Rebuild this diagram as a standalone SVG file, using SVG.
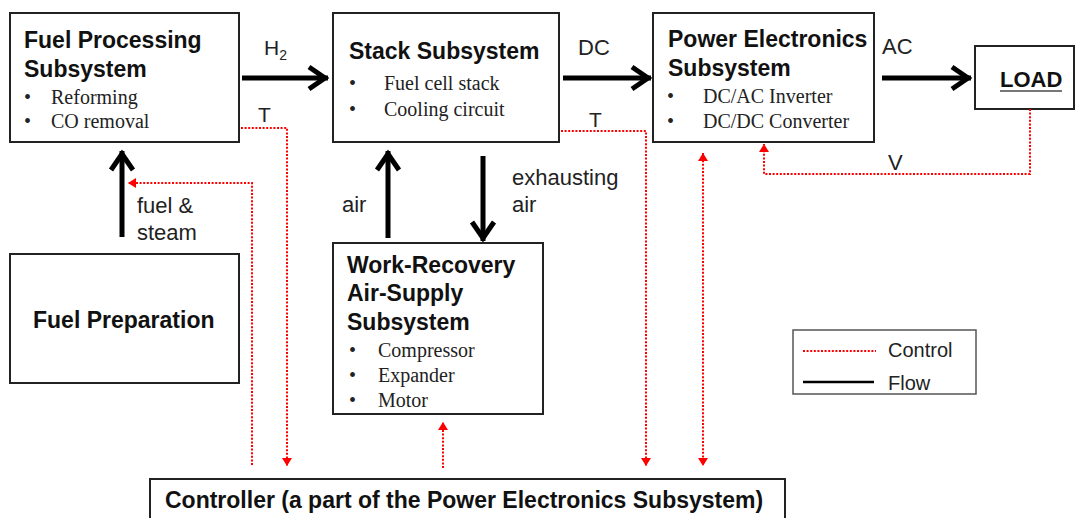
<svg xmlns="http://www.w3.org/2000/svg" width="1075" height="518" viewBox="0 0 1075 518">
  <style>
    .box { fill: #fff; stroke: #222; stroke-width: 2; }
    .title { font-family: "Liberation Sans", Arial, sans-serif; font-weight: bold; font-size: 23px; fill: #111; }
    .item { font-family: "Liberation Serif", "Times New Roman", serif; font-size: 20px; fill: #222; }
    .label { font-family: "Liberation Sans", Arial, sans-serif; font-size: 22px; fill: #222; }
    .legend { font-family: "Liberation Sans", Arial, sans-serif; font-size: 20px; fill: #222; }
    .flow { fill: none; stroke: #000; stroke-width: 5; marker-end: url(#flowHead); }
    .ctrl { fill: none; stroke: #f00; stroke-width: 2; stroke-dasharray: 2 1.6; }
  </style>
  <defs>
    <marker id="flowHead" markerUnits="userSpaceOnUse" viewBox="-24 -16 30 32" markerWidth="30" markerHeight="32" refX="0" refY="0" orient="auto" overflow="visible">
      <path d="M-19,-11 L-3,0 L-19,11" fill="none" stroke="#000" stroke-width="5" stroke-linejoin="miter"/>
    </marker>
    <marker id="ctrlHead" markerUnits="userSpaceOnUse" viewBox="-10 -6 12 12" markerWidth="12" markerHeight="12" refX="0" refY="0" orient="auto-start-reverse" overflow="visible">
      <path d="M-8,-5 L0,0 L-8,5 Z" fill="#f00"/>
    </marker>
  </defs>

  <!-- blocks -->
  <g id="fuel-processing">
    <rect class="box" x="10" y="13" width="229" height="129"/>
    <text class="title" x="24" y="48">Fuel Processing</text>
    <text class="title" x="24" y="77">Subsystem</text>
    <text class="item" x="24" y="104">•</text>
    <text class="item" x="51" y="104">Reforming</text>
    <text class="item" x="24" y="128">•</text>
    <text class="item" x="51" y="128">CO removal</text>
  </g>

  <g id="stack">
    <rect class="box" x="333" y="13" width="226" height="129"/>
    <text class="title" x="349" y="59">Stack Subsystem</text>
    <text class="item" x="349" y="90">•</text>
    <text class="item" x="384" y="90">Fuel cell stack</text>
    <text class="item" x="349" y="116">•</text>
    <text class="item" x="384" y="116">Cooling circuit</text>
  </g>

  <g id="power-electronics">
    <rect class="box" x="653" y="13" width="221" height="129"/>
    <text class="title" x="668" y="47">Power Electronics</text>
    <text class="title" x="668" y="76">Subsystem</text>
    <text class="item" x="667" y="103">•</text>
    <text class="item" x="703" y="103">DC/AC Inverter</text>
    <text class="item" x="667" y="128">•</text>
    <text class="item" x="703" y="128">DC/DC Converter</text>
  </g>

  <g id="load">
    <rect class="box" x="975" y="46" width="99" height="63"/>
    <text class="title" x="1000" y="87" style="font-size:22px">LOAD</text>
    <line x1="1000" y1="91" x2="1062" y2="91" stroke="#777" stroke-width="2"/>
  </g>

  <g id="fuel-preparation">
    <rect class="box" x="10" y="254" width="229" height="129"/>
    <text class="title" x="33" y="328">Fuel Preparation</text>
  </g>

  <g id="air-supply">
    <rect class="box" x="333" y="243" width="210" height="171"/>
    <text class="title" x="347" y="273">Work-Recovery</text>
    <text class="title" x="347" y="301">Air-Supply</text>
    <text class="title" x="347" y="330">Subsystem</text>
    <text class="item" x="349" y="357">•</text>
    <text class="item" x="378" y="357">Compressor</text>
    <text class="item" x="349" y="382">•</text>
    <text class="item" x="378" y="382">Expander</text>
    <text class="item" x="349" y="407">•</text>
    <text class="item" x="378" y="407">Motor</text>
  </g>

  <g id="controller">
    <rect class="box" x="150" y="479" width="635" height="60"/>
    <text class="title" x="165" y="508">Controller (a part of the Power Electronics Subsystem)</text>
  </g>

  <g id="legend">
    <rect x="793" y="330" width="183" height="64" fill="#fff" stroke="#555" stroke-width="1.5"/>
    <line class="ctrl" x1="803" y1="351" x2="876" y2="351"/>
    <text class="legend" x="888" y="357">Control</text>
    <line x1="803" y1="382" x2="874" y2="382" stroke="#000" stroke-width="2.5"/>
    <text class="legend" x="888" y="390">Flow</text>
  </g>

  <!-- connectors -->
  <g id="connectors">
    <!-- material / energy flow -->
    <path class="flow" d="M242,78 H328"/>
    <path class="flow" d="M563,78 H651"/>
    <path class="flow" d="M882,78 H971"/>
    <path class="flow" d="M122,237 V151"/>
    <path class="flow" d="M388,238 V151"/>
    <path class="flow" d="M483,156 V241"/>

    <!-- control signals -->
    <path class="ctrl" d="M241,128 H287 V466" marker-end="url(#ctrlHead)"/>
    <path class="ctrl" d="M252,465 V183 H128" marker-end="url(#ctrlHead)"/>
    <path class="ctrl" d="M561,131 H646 V466" marker-end="url(#ctrlHead)"/>
    <path class="ctrl" d="M703,153 V466" marker-start="url(#ctrlHead)" marker-end="url(#ctrlHead)"/>
    <path class="ctrl" d="M443,468 V422" marker-end="url(#ctrlHead)"/>
    <path class="ctrl" d="M1030,109 V174 H764 V144" marker-end="url(#ctrlHead)"/>

    <!-- labels -->
    <text class="label" x="264" y="55" style="font-size:21px">H<tspan dy="5" style="font-size:14px">2</tspan></text>
    <text class="label" x="258" y="122" style="font-size:21px">T</text>
    <text class="label" x="578" y="55">DC</text>
    <text class="label" x="589" y="127" style="font-size:21px">T</text>
    <text class="label" x="882" y="54">AC</text>
    <text class="label" x="888" y="170">V</text>
    <text class="label" x="137" y="213">fuel &amp;</text>
    <text class="label" x="137" y="240">steam</text>
    <text class="label" x="342" y="212">air</text>
    <text class="label" x="512" y="185">exhausting</text>
    <text class="label" x="512" y="212">air</text>
  </g>
</svg>
